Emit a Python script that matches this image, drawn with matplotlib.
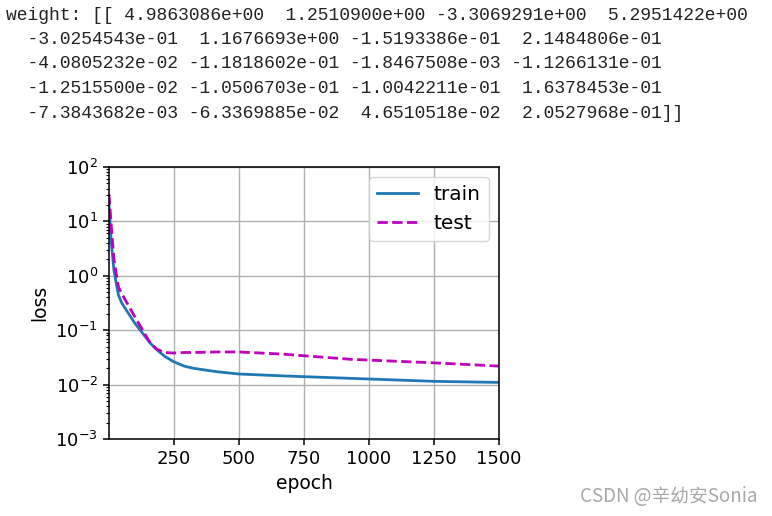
import matplotlib
matplotlib.use('agg')
import matplotlib.pyplot as plt

# printed weights shown above the chart
weight_lines = [
    'weight: [[ 4.9863086e+00  1.2510900e+00 -3.3069291e+00  5.2951422e+00',
    '  -3.0254543e-01  1.1676693e+00 -1.5193386e-01  2.1484806e-01',
    '  -4.0805232e-02 -1.1818602e-01 -1.8467508e-03 -1.1266131e-01',
    '  -1.2515500e-02 -1.0506703e-01 -1.0042211e-01  1.6378453e-01',
    '  -7.3843682e-03 -6.3369885e-02  4.6510518e-02  2.0527968e-01]]',
]

# loss curves (log10 values)
epochs = [1, 10, 20, 37, 50, 100, 160, 185, 215, 250, 290, 325, 415, 500, 670, 930, 1250, 1500]
train_log = [1.30, 0.6, 0.1, -0.35, -0.5, -0.87, -1.24, -1.36, -1.48, -1.58, -1.66, -1.70,
             -1.763, -1.805, -1.84, -1.885, -1.94, -1.96]
test_log = [1.50, 0.9, 0.3, -0.2, -0.33, -0.75, -1.24, -1.35, -1.41, -1.42, -1.41, -1.41,
            -1.40, -1.40, -1.44, -1.535, -1.60, -1.66]
train_loss = [10 ** v for v in train_log]
test_loss = [10 ** v for v in test_log]

plt.rcParams['font.size'] = 13
plt.rcParams['axes.linewidth'] = 1.1

fig = plt.figure(figsize=(7.72, 5.16), dpi=100)

for i, line in enumerate(weight_lines):
    fig.text(6 / 772, 1 - (15 + 24.5 * i) / 516, line, family='Liberation Mono',
             fontsize=13, va='center', ha='left', color='#222222')

ax = fig.add_axes([109 / 772, 1 - 439 / 516, 390 / 772, 272 / 516])
ax.plot(epochs, train_loss, '-', color='#1f77b4', lw=2.0, label='train')
ax.plot(epochs, test_loss, '--', color='m', lw=2.0, label='test')
ax.set_yscale('log')
ax.set_xlim(1, 1500)
ax.set_ylim(1e-3, 1e2)
ax.set_xticks([250, 500, 750, 1000, 1250, 1500])
ax.set_xlabel('epoch', fontsize=13.5)
ax.set_ylabel('loss', fontsize=13.5)
ax.grid(True, color='#b0b0b0', lw=1.0)
ax.tick_params(which='major', length=4.5, width=1.1)
ax.tick_params(which='minor', length=2.5, width=0.8)
ax.legend(loc='upper right', handlelength=2.0, fontsize=14.5, borderaxespad=0.5)

fig.text(757 / 772, 1 - 497 / 516, 'CSDN @辛幼安Sonia', family=['Noto Sans CJK SC', 'DejaVu Sans'],
         fontsize=13.5, color='#a8a8a8', ha='right', va='center')

plt.savefig('out.png', dpi=100)
